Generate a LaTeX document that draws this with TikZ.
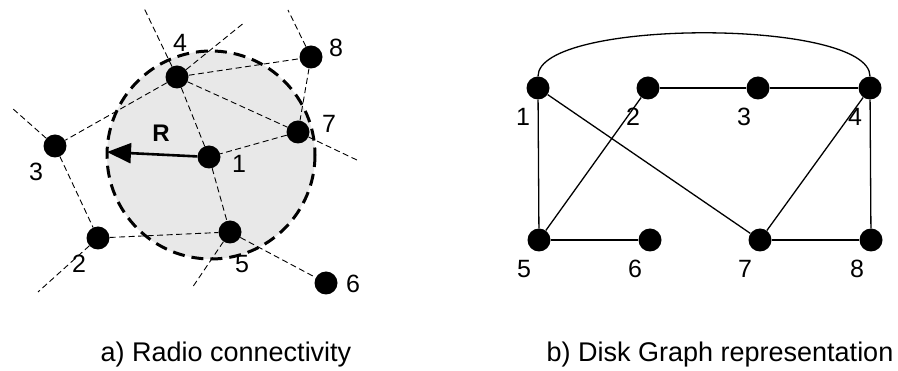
\documentclass[tikz,border=0pt]{standalone}
\usepackage{fontspec}
\setmainfont{Liberation Sans}
\usetikzlibrary{arrows.meta,positioning,calc}
\tikzset{
  dot/.style={circle, fill=black, minimum size=23pt, inner sep=0pt},
  num/.style={inner sep=0pt, font=\fontsize{25}{30}\selectfont},
  subcap/.style={inner sep=0pt, anchor=base, font=\fontsize{27}{32}\selectfont},
  radio/.style={line width=0.9pt, dash pattern=on 6pt off 3.5pt},
  disk/.style={line width=3pt, dash pattern=on 12pt off 7pt},
  link/.style={line width=1.3pt},
  rad/.style={-{Triangle[length=24pt, width=20pt]}, line width=2.6pt},
}

\begin{document}
\begin{tikzpicture}[x=1pt, y=-1pt]
\useasboundingbox (0,0) rectangle (898,371);

% a) radio range of node 1
\fill[black!9] (211,155) circle[radius=104];
\draw[disk] (211,155) circle[radius=104];

\node[dot] (l1) at (209,157) {};
\node[dot] (l2) at (98,238) {};
\node[dot] (l3) at (55,146) {};
\node[dot] (l4) at (177,77) {};
\node[dot] (l5) at (230,232) {};
\node[dot] (l6) at (326,283) {};
\node[dot] (l7) at (298,132) {};
\node[dot] (l8) at (311,57) {};

\node[num] at (239,164) {1};
\node[num] at (79,264) {2};
\node[num] at (36,172) {3};
\node[num] at (180,43) {4};
\node[num] at (242,264) {5};
\node[num] at (353,284) {6};
\node[num] at (329,124) {7};
\node[num] at (336,48) {8};

% links leaving the picture
\coordinate (o4a) at (144,8);
\coordinate (o4b) at (245,22);
\coordinate (o8) at (288,10);
\coordinate (o7) at (359,161);
\coordinate (o3) at (12,108);
\coordinate (o2) at (38,292);
\coordinate (o5) at (192,288);

\draw[radio] (l4) -- (o4a);
\draw[radio] (l4) -- (o4b);
\draw[radio] (l8) -- (o8);
\draw[radio] (l7) -- (o7);
\draw[radio] (l3) -- (o3);
\draw[radio] (l2) -- (o2);
\draw[radio] (l5) -- (o5);

\draw[radio] (l4) -- (l8);
\draw[radio] (l4) -- (l7);
\draw[radio] (l4) -- (l1);
\draw[radio] (l4) -- (l3);
\draw[radio] (l8) -- (l7);
\draw[radio] (l7) -- (l1);
\draw[radio] (l3) -- (l2);
\draw[radio] (l2) -- (l5);
\draw[radio] (l1) -- (l5);
\draw[radio] (l5) -- (l6);

\coordinate (rtip) at (107,152);
\draw[rad] (l1) -- (rtip);
\node[inner sep=0pt, font=\fontsize{24}{28}\selectfont\bfseries] (rlbl) at (161,133) {R};

% b) disk graph
\node[dot] (r1) at (538,88) {};
\node[dot] (r2) at (648,88) {};
\node[dot] (r3) at (758,88) {};
\node[dot] (r4) at (870,88) {};
\node[dot] (r5) at (539,240) {};
\node[dot] (r6) at (650,240) {};
\node[dot] (r7) at (760,240) {};
\node[dot] (r8) at (871,240) {};

\node[num] at (523,117) {1};
\node[num] at (633,117) {2};
\node[num] at (744,117) {3};
\node[num] at (855,117) {4};
\node[num] at (524,269) {5};
\node[num] at (635,269) {6};
\node[num] at (745,269) {7};
\node[num] at (857,269) {8};

\draw[link] (r1) -- (r5);
\draw[link] (r1) -- (r7);
\draw[link] (r2) -- (r3);
\draw[link] (r3) -- (r4);
\draw[link] (r2) -- (r5);
\draw[link] (r4) -- (r7);
\draw[link] (r4) -- (r8);
\draw[link] (r5) -- (r6);
\draw[link] (r7) -- (r8);
\draw[link] (r1.north) .. controls +(0,-58) and +(0,-58) .. (r4.north);

\node[subcap] (capa) at (226,362) {a) Radio connectivity};
\node[subcap] (capb) at (720,362) {b) Disk Graph representation};

\end{tikzpicture}
\end{document}
